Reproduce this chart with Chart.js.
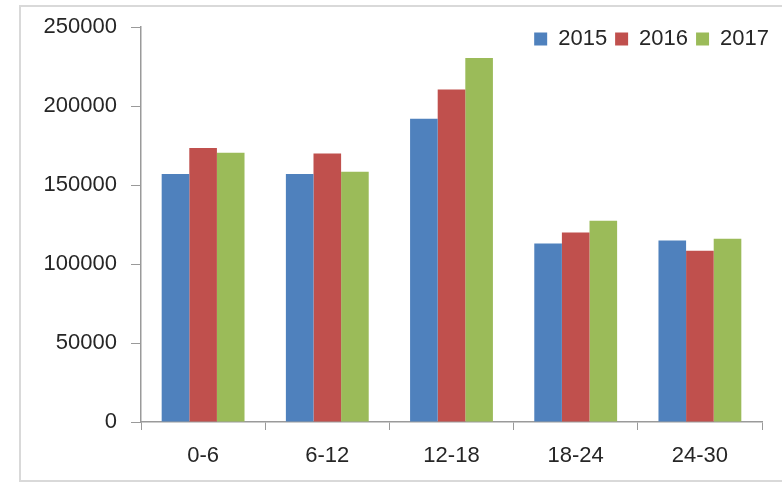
<!DOCTYPE html>
<html>
<head>
<meta charset="utf-8">
<script src="https://cdn.jsdelivr.net/npm/chart.js@4"></script>
<style>
  html, body { margin: 0; padding: 0; background: #fff; overflow: hidden; }
  #wrap { position: relative; width: 782px; height: 482px; }
  #frame { position: absolute; left: 19px; top: 5px; width: 800px; height: 477px; border: 2px solid #d9d9d9; box-sizing: border-box; pointer-events: none; }
  canvas { position: absolute; left: 0; top: 0; }
</style>
</head>
<body>
<div id="wrap">
  <div id="frame"></div>
  <canvas id="c" width="782" height="482"></canvas>
</div>
<script>
const categories = ["0-6", "6-12", "12-18", "18-24", "24-30"];
const seriesNames = ["2015", "2016", "2017"];
const values2015 = [157000, 157000, 192000, 113000, 115000];
const values2016 = [173500, 170000, 210500, 120000, 108500];
const values2017 = [170500, 158500, 230500, 127500, 116000];
const yTicks = [0, 50000, 100000, 150000, 200000, 250000];
const colors = ["#4F81BD", "#C0504D", "#9BBB59"];

const FONT = "'Liberation Sans', Arial, sans-serif";
const TEXT = "#262626";
const AXIS = "#9a9a9a";

// Legend floats over the plot (takes no layout height), like the Excel original
const floatLegend = {
  id: 'floatLegend',
  beforeLayout(chart) {
    const lg = chart.legend;
    if (lg && !lg._patched) {
      const origFit = lg.fit;
      lg.fit = function () { origFit.call(this); this._realH = this.height; this.height = 0; };
      lg._patched = true;
    }
  },
  afterLayout(chart) {
    const lg = chart.legend;
    if (!lg) return;
    lg.height = lg._realH || 40;
    lg.top = 20;
    lg.bottom = lg.top + lg.height;
    lg.left += 15;
    lg.right += 15;
  }
};

new Chart(document.getElementById('c'), {
  type: 'bar',
  data: {
    labels: categories,
    datasets: [values2015, values2016, values2017].map((v, i) => ({
      label: seriesNames[i],
      data: v,
      backgroundColor: colors[i],
      borderWidth: 0,
      categoryPercentage: 0.667,
      barPercentage: 1.0
    }))
  },
  options: {
    responsive: false,
    animation: false,
    devicePixelRatio: 1,
    layout: { padding: { left: 0, right: 20, top: 24, bottom: 0 } },
    plugins: {
      tooltip: { enabled: false },
      legend: {
        position: 'top',
        align: 'end',
        labels: {
          boxWidth: 13,
          boxHeight: 13,
          padding: 8,
          color: TEXT,
          font: { family: FONT, size: 22 }
        }
      }
    },
    scales: {
      x: {
        afterFit(s) { s.height = 60; },
        grid: { display: true, drawOnChartArea: false, drawTicks: true, tickLength: 8, color: AXIS, offset: true },
        border: { display: true, color: AXIS, width: 1.5 },
        ticks: { color: TEXT, padding: 13, font: { family: FONT, size: 22 } }
      },
      y: {
        min: 0,
        max: 250000,
        afterFit(s) { s.width = 141; },
        afterBuildTicks(s) { s.ticks = yTicks.map(v => ({ value: v })); },
        grid: { display: true, drawOnChartArea: false, drawTicks: true, tickLength: 10, color: AXIS },
        border: { display: true, color: AXIS, width: 1.5 },
        ticks: { color: TEXT, padding: 14, font: { family: FONT, size: 22 }, callback: v => String(v) }
      }
    }
  },
  plugins: [floatLegend]
});
</script>
</body>
</html>
